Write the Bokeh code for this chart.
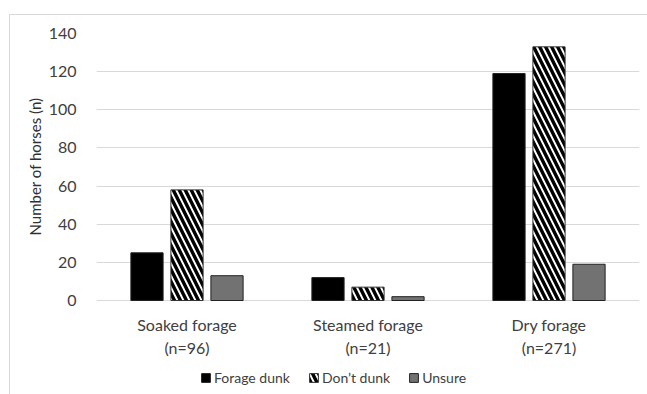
from bokeh.plotting import figure
from bokeh.models import ColumnDataSource, Legend, LegendItem, FactorRange, Range1d, Title, Grid
from bokeh.core.properties import value
from bokeh.transform import dodge
from bokeh.embed import file_html
from bokeh.resources import INLINE

categories = ["Soaked forage\n(n=96)", "Steamed forage\n(n=21)", "Dry forage\n(n=271)"]
forage_dunk = [25, 12, 119]
dont_dunk = [58, 7, 133]
unsure = [13, 2, 19]
baseline = [0, 0, 0]
series_names = ["Forage dunk", "Don\u2019t dunk", "Unsure"]
y_ticks = [0, 20, 40, 60, 80, 100, 120, 140]

FONT = "Lato"
TXT = "#404040"

src = ColumnDataSource(dict(cat=categories, fd=forage_dunk, dd=dont_dunk, un=unsure, base=baseline))

# frame: 362 px tall; 0..140 occupies the top 267 px, the rest holds category labels + legend
y_top = 140
y_bottom = y_top - 362 * 140 / 267

p = figure(x_range=FactorRange(*categories), y_range=Range1d(y_bottom, y_top),
           width=638, height=380, x_axis_location=None,
           output_backend="svg", toolbar_location=None,
           min_border_left=86, min_border_right=9, min_border_top=18, min_border_bottom=0)
p.styles = {"margin-left": "9px", "margin-top": "14px",
            "border-left": "1px solid #d9d9d9", "border-top": "1px solid #d9d9d9"}
p.outline_line_color = None
p.background_fill_color = "white"
p.border_fill_color = "white"

w = 0.178
r1 = p.vbar(x=dodge("cat", -0.221, range=p.x_range), top="fd", width=w, source=src,
            fill_color="black", line_color="#222222", line_width=1)
r2 = p.vbar(x=dodge("cat", 0.0, range=p.x_range), top="dd", width=w, source=src,
            fill_color="white", line_color="#333333", line_width=1,
            hatch_pattern="left_diagonal_line", hatch_color="black",
            hatch_scale=12, hatch_weight=3.4)
r3 = p.vbar(x=dodge("cat", 0.221, range=p.x_range), top="un", width=w, source=src,
            fill_color="#727272", line_color="#222222", line_width=1)

# category labels under the baseline
p.text(x="cat", y="base", text="cat", source=src, y_offset=14,
       text_align="center", text_baseline="top", text_font=value(FONT),
       text_font_size="16px", text_color=TXT, text_line_height=1.25)

p.yaxis.ticker = y_ticks
p.yaxis.axis_line_color = None
p.yaxis.major_tick_line_color = None
p.yaxis.minor_tick_line_color = None
p.yaxis.major_label_standoff = 14
p.yaxis.major_label_text_font = FONT
p.yaxis.major_label_text_font_size = "16px"
p.yaxis.major_label_text_color = TXT

ylabel = Title(text="Number of horses (n)", align="left", offset=160, standoff=4,
               text_font=FONT, text_font_size="15px", text_font_style="normal",
               text_color="#303030")
p.add_layout(ylabel, "left")

for g in p.select(Grid):
    if g.dimension == 0:
        g.visible = False
        g.grid_line_color = None
p.ygrid.grid_line_color = "#d9d9d9"
p.ygrid.grid_line_width = 1.2

legend = Legend(items=[LegendItem(label=series_names[0], renderers=[r1]),
                       LegendItem(label=series_names[1], renderers=[r2]),
                       LegendItem(label=series_names[2], renderers=[r3])],
                orientation="horizontal", location=(104, 9),
                glyph_width=11, glyph_height=11, label_standoff=3, spacing=18,
                label_text_font=FONT, label_text_font_size="14px", label_text_color=TXT,
                border_line_color=None, background_fill_alpha=0, padding=0, margin=0)
p.add_layout(legend, "center")

open("out.html", "w").write(file_html(p, INLINE))
